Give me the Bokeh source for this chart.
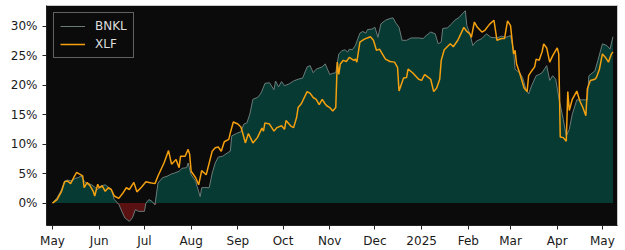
import numpy as np
import pandas as pd
from bokeh.plotting import figure
from bokeh.models import Range1d, FixedTicker
from bokeh.embed import file_html
from bokeh.resources import INLINE

# ---------------- data ----------------
bnkl_dates = [
    "2024-05-01", "2024-05-04", "2024-05-07", "2024-05-09", "2024-05-11", "2024-05-14", "2024-05-16", "2024-05-18",
    "2024-05-20", "2024-05-22", "2024-05-24", "2024-05-25", "2024-05-27", "2024-05-29", "2024-05-31",
    "2024-06-02", "2024-06-05", "2024-06-07", "2024-06-09", "2024-06-11", "2024-06-14", "2024-06-16", "2024-06-18",
    "2024-06-21", "2024-06-23", "2024-06-25", "2024-06-27", "2024-06-30",
    "2024-07-01", "2024-07-02", "2024-07-04", "2024-07-06", "2024-07-08", "2024-07-10", "2024-07-13", "2024-07-16",
    "2024-07-19", "2024-07-21", "2024-07-24", "2024-07-26", "2024-07-29", "2024-07-30",
    "2024-08-01", "2024-08-04", "2024-08-05", "2024-08-07", "2024-08-08", "2024-08-10", "2024-08-13", "2024-08-15",
    "2024-08-17", "2024-08-19", "2024-08-22", "2024-08-25", "2024-08-27", "2024-08-28", "2024-08-31",
    "2024-09-03", "2024-09-05", "2024-09-07", "2024-09-09", "2024-09-11", "2024-09-14", "2024-09-16", "2024-09-17",
    "2024-09-19", "2024-09-22", "2024-09-25", "2024-09-26", "2024-09-28", "2024-09-30",
    "2024-10-02", "2024-10-05", "2024-10-08", "2024-10-11", "2024-10-14", "2024-10-17", "2024-10-19", "2024-10-21",
    "2024-10-23", "2024-10-27", "2024-10-29",
    "2024-11-01", "2024-11-03", "2024-11-05", "2024-11-07", "2024-11-09", "2024-11-11", "2024-11-13", "2024-11-14",
    "2024-11-16", "2024-11-18", "2024-11-21", "2024-11-23", "2024-11-25", "2024-11-26", "2024-11-29",
    "2024-12-01", "2024-12-03", "2024-12-05", "2024-12-08", "2024-12-11", "2024-12-13", "2024-12-15", "2024-12-17",
    "2024-12-19", "2024-12-22", "2024-12-25", "2024-12-30",
    "2025-01-02", "2025-01-04", "2025-01-07", "2025-01-10", "2025-01-12", "2025-01-14", "2025-01-15", "2025-01-18",
    "2025-01-21", "2025-01-23", "2025-01-26", "2025-01-28", "2025-01-30", "2025-01-31",
    "2025-02-02", "2025-02-04", "2025-02-06", "2025-02-10", "2025-02-13", "2025-02-16", "2025-02-20", "2025-02-23",
    "2025-02-26",
    "2025-03-01", "2025-03-03", "2025-03-04", "2025-03-07", "2025-03-09", "2025-03-11", "2025-03-13", "2025-03-15",
    "2025-03-18", "2025-03-20", "2025-03-22", "2025-03-25", "2025-03-27", "2025-03-29", "2025-03-31",
    "2025-04-02", "2025-04-05", "2025-04-07", "2025-04-09", "2025-04-11", "2025-04-14", "2025-04-21", "2025-04-22",
    "2025-04-26", "2025-04-28",
    "2025-05-01", "2025-05-04", "2025-05-06", "2025-05-08",
]
bnkl_pct = [
    0.0, 0.9, 2.3, 3.75, 3.9, 3.75, 4.2, 4.3, 4.6, 3.75, 3.2, 3.3, 3.1, 2.7, 2.3,
    2.9, 3.1, 2.7, 2.3, 0.6, -0.2, -1.4, -2.5, -3.1, -2.5, -1.1, -1.4, -1.4,
    -1.4, 0.0, 0.6, 0.3, -0.3, 3.4, 4.3, 4.55, 4.95, 5.1, 5.4, 5.9, 6.0, 6.8,
    4.8, 3.7, 2.8, 1.1, 2.6, 2.65, 2.6, 5.1, 6.8, 7.8, 7.95, 8.5, 8.8, 11.4, 11.8,
    12.1, 13.4, 13.6, 15.1, 17.6, 17.9, 18.5, 19.0, 20.3, 20.4, 19.2, 20.7, 19.7, 20.6,
    19.9, 20.2, 20.7, 21.0, 21.2, 23.1, 23.3, 22.1, 22.7, 23.1, 23.6,
    21.8, 22.0, 22.1, 25.3, 25.8, 26.0, 25.6, 26.1, 26.0, 26.7, 28.8, 29.1, 28.8, 29.4, 29.5,
    29.8, 28.1, 30.4, 31.0, 31.3, 31.4, 30.5, 29.8, 27.6, 27.6, 28.0, 28.0,
    27.9, 28.4, 29.0, 28.7, 27.0, 27.3, 29.6, 29.7, 30.4, 31.0, 31.5, 32.1, 32.6, 30.1,
    28.7, 26.7, 27.4, 27.9, 28.7, 28.1, 28.0, 28.3, 28.1,
    28.4, 25.9, 22.7, 22.1, 21.3, 19.5, 18.5, 19.9, 21.6, 21.8, 22.1, 23.3, 20.8, 21.6, 21.0,
    17.9, 14.2, 11.4, 12.5, 15.1, 17.5, 17.5, 21.6, 22.4, 24.2,
    27.0, 26.7, 26.1, 28.2,
]

xlf_dates = [
    "2024-05-01", "2024-05-04", "2024-05-07", "2024-05-09", "2024-05-11", "2024-05-13", "2024-05-15", "2024-05-17",
    "2024-05-19", "2024-05-21", "2024-05-22", "2024-05-24", "2024-05-26", "2024-05-28", "2024-05-29", "2024-05-31",
    "2024-06-01", "2024-06-03", "2024-06-05", "2024-06-07", "2024-06-09", "2024-06-11", "2024-06-14", "2024-06-17",
    "2024-06-19", "2024-06-21", "2024-06-24", "2024-06-26", "2024-06-29",
    "2024-07-02", "2024-07-04", "2024-07-08", "2024-07-10", "2024-07-12", "2024-07-14", "2024-07-17", "2024-07-19",
    "2024-07-22", "2024-07-24", "2024-07-25", "2024-07-28", "2024-07-30", "2024-07-31",
    "2024-08-01", "2024-08-04", "2024-08-06", "2024-08-08", "2024-08-11", "2024-08-15", "2024-08-17", "2024-08-19",
    "2024-08-21", "2024-08-23", "2024-08-26", "2024-08-27", "2024-08-29",
    "2024-09-01", "2024-09-03", "2024-09-04", "2024-09-06", "2024-09-08", "2024-09-11", "2024-09-14", "2024-09-17",
    "2024-09-18", "2024-09-19", "2024-09-22", "2024-09-25", "2024-09-27", "2024-09-30",
    "2024-10-02", "2024-10-03", "2024-10-06", "2024-10-08", "2024-10-10", "2024-10-11", "2024-10-13", "2024-10-14",
    "2024-10-17", "2024-10-19", "2024-10-21", "2024-10-23", "2024-10-25", "2024-10-27", "2024-10-29", "2024-10-30",
    "2024-11-01", "2024-11-03", "2024-11-05", "2024-11-06", "2024-11-07", "2024-11-08", "2024-11-10", "2024-11-12",
    "2024-11-14", "2024-11-17", "2024-11-18", "2024-11-19", "2024-11-21", "2024-11-24", "2024-11-28", "2024-11-30",
    "2024-12-02", "2024-12-04", "2024-12-08", "2024-12-11", "2024-12-14", "2024-12-16", "2024-12-17", "2024-12-20",
    "2024-12-22", "2024-12-23", "2024-12-26", "2024-12-30",
    "2025-01-01", "2025-01-03", "2025-01-05", "2025-01-07", "2025-01-09", "2025-01-11", "2025-01-13", "2025-01-14",
    "2025-01-16", "2025-01-20", "2025-01-22", "2025-01-25", "2025-01-27", "2025-01-29", "2025-01-31",
    "2025-02-02", "2025-02-03", "2025-02-05", "2025-02-07", "2025-02-10", "2025-02-12", "2025-02-15", "2025-02-18",
    "2025-02-20", "2025-02-23", "2025-02-25", "2025-02-27",
    "2025-03-01", "2025-03-03", "2025-03-04", "2025-03-05", "2025-03-07", "2025-03-10", "2025-03-12", "2025-03-13",
    "2025-03-15", "2025-03-17", "2025-03-18", "2025-03-20", "2025-03-22", "2025-03-23", "2025-03-25", "2025-03-27",
    "2025-03-29",
    "2025-04-01", "2025-04-02", "2025-04-03", "2025-04-05", "2025-04-07", "2025-04-08", "2025-04-09", "2025-04-11",
    "2025-04-14", "2025-04-16", "2025-04-18", "2025-04-20", "2025-04-21", "2025-04-23", "2025-04-26", "2025-04-27",
    "2025-04-29",
    "2025-05-01", "2025-05-03", "2025-05-05", "2025-05-07", "2025-05-08",
]
xlf_pct = [
    0.0, 0.6, 2.0, 3.6, 3.75, 3.3, 4.3, 5.2, 4.9, 4.6, 2.6, 3.5, 2.9, 2.0, 1.2, 3.2,
    2.6, 2.9, 2.0, 2.6, 2.3, 1.2, 0.8, 1.8, 2.6, 2.3, 3.5, 1.9, 2.7,
    3.6, 3.5, 3.3, 4.6, 5.7, 6.8, 8.9, 6.6, 7.4, 6.0, 7.95, 7.95, 9.1, 8.3,
    5.4, 4.3, 3.1, 5.5, 4.8, 8.8, 9.4, 9.5, 8.8, 10.4, 10.8, 11.9, 13.75,
    13.4, 12.9, 12.1, 10.2, 11.8, 10.2, 11.1, 12.7, 12.2, 13.6, 13.4, 12.2, 12.8, 13.1,
    12.5, 14.0, 13.1, 12.8, 14.5, 16.2, 16.8, 17.3, 18.9, 18.6, 17.9, 17.6, 16.7, 17.6, 16.8, 16.5,
    16.2, 15.6, 16.2, 23.9, 21.8, 23.6, 24.2, 24.0, 24.7, 24.2, 24.4, 23.9, 27.3, 27.8, 28.2, 27.6,
    25.9, 26.1, 24.4, 24.0, 23.9, 23.0, 19.0, 21.2, 21.3, 22.7, 22.1, 21.0,
    20.8, 21.8, 21.4, 21.0, 18.9, 19.5, 21.0, 24.2, 26.0, 27.0, 26.5, 27.6, 28.7, 29.8, 29.1,
    28.7, 28.1, 30.7, 29.8, 29.0, 29.3, 30.3, 31.0, 27.6, 27.9, 27.9, 30.9,
    30.1, 25.3, 25.9, 23.6, 22.1, 19.5, 18.9, 21.6, 22.4, 23.1, 24.4, 24.2, 25.7, 27.0, 26.3, 23.9, 25.0,
    26.3, 25.3, 11.2, 11.1, 10.5, 18.9, 15.7, 17.6, 19.0, 17.3, 16.2, 14.8, 19.4, 20.8, 21.0, 21.3, 22.7,
    25.3, 24.7, 23.9, 25.3, 25.6,
]

y_ticks = [0, 5, 10, 15, 20, 25, 30]
y_tick_labels = ["0%", "5%", "10%", "15%", "20%", "25%", "30%"]
x_tick_dates = ["2024-05-01", "2024-06-01", "2024-07-01", "2024-08-01", "2024-09-01", "2024-10-01", "2024-11-01",
                "2024-12-01", "2025-01-01", "2025-02-01", "2025-03-01", "2025-04-01", "2025-05-01"]
x_tick_labels = ["May", "Jun", "Jul", "Aug", "Sep", "Oct", "Nov", "Dec", "2025", "Feb", "Mar", "Apr", "May"]

# ---------------- figure ----------------
FONT = "DejaVu Sans"
bx = pd.to_datetime(bnkl_dates)
by = np.array(bnkl_pct)
xx = pd.to_datetime(xlf_dates)
xy = np.array(xlf_pct)

p = figure(width=625, height=250, x_axis_type="datetime",
           output_backend="svg", toolbar_location=None,
           x_range=Range1d(pd.Timestamp("2024-04-27"), pd.Timestamp("2025-05-11")),
           y_range=Range1d(-3.8, 33.5),
           min_border_left=46, min_border_right=8, min_border_top=5, min_border_bottom=25)

p.background_fill_color = "#0b0b0b"
p.border_fill_color = "white"
p.outline_line_color = "#c8c8c8"
p.grid.visible = False

# area fills (positive teal, negative dark red)
p.varea(x=bx, y1=np.zeros_like(by), y2=np.maximum(by, 0), fill_color="#063a33")
p.varea(x=bx, y1=np.minimum(by, 0), y2=np.zeros_like(by), fill_color="#5a1111")

p.line(bx, by, line_color="#6c7c7a", line_width=1, legend_label="BNKL")
p.line(xx, xy, line_color="#f5a00f", line_width=1.5, legend_label="XLF")

# axes
x_ms = [int(pd.Timestamp(d).value // 10**6) for d in x_tick_dates]
p.xaxis.ticker = FixedTicker(ticks=x_ms)
p.xaxis.major_label_overrides = dict(zip(x_ms, x_tick_labels))
p.yaxis.ticker = FixedTicker(ticks=y_ticks)
p.yaxis.major_label_overrides = dict(zip(y_ticks, y_tick_labels))

for ax in (p.xaxis, p.yaxis):
    ax.major_tick_out = 4
    ax.major_tick_in = 0
    ax.minor_tick_out = 0
    ax.minor_tick_in = 0
    ax.axis_line_color = "#222222"
    ax.major_tick_line_color = "#222222"
    ax.major_label_text_font = FONT
    ax.major_label_text_font_size = "12px"
    ax.major_label_text_color = "#1a1a1a"
p.xaxis.major_label_standoff = 4
p.yaxis.major_label_standoff = 5

# legend
lg = p.legend[0]
lg.location = "top_left"
lg.margin = 7
lg.padding = 6
lg.spacing = 4
lg.background_fill_color = "#0b0b0b"
lg.background_fill_alpha = 1.0
lg.border_line_color = "#b8b8b8"
lg.border_line_width = 1
lg.label_text_color = "#dddddd"
lg.label_text_font = FONT
lg.label_text_font_size = "12px"
lg.glyph_width = 25
lg.glyph_height = 14
lg.label_height = 14
lg.label_standoff = 10

open("out.html", "w").write(file_html(p, INLINE))
